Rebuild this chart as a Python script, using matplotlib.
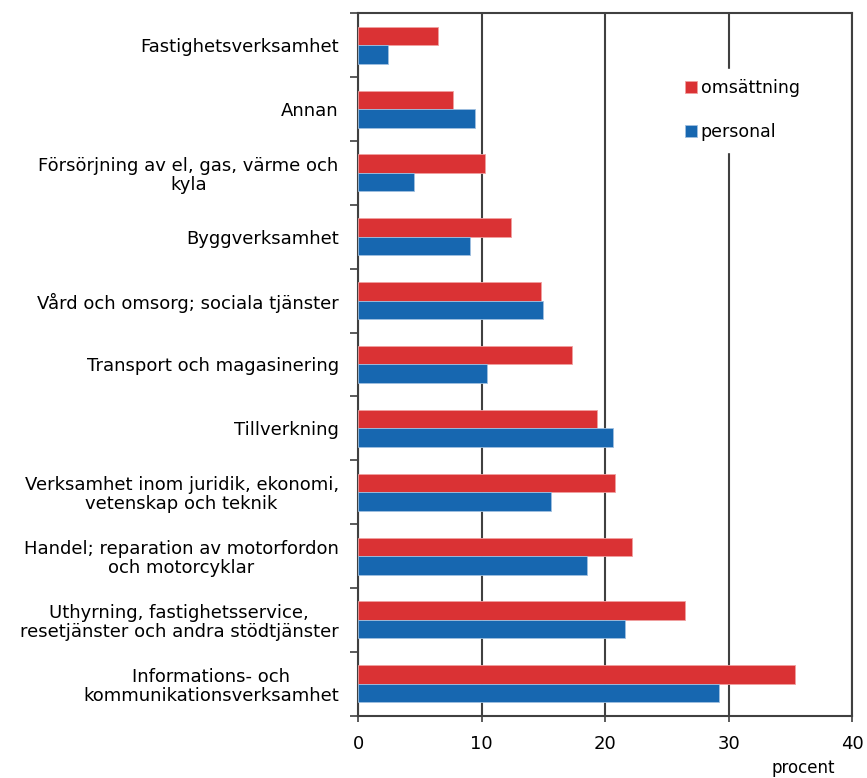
import matplotlib.pyplot as plt
import numpy as np

plt.rcParams['font.family'] = ['DejaVu Sans']

# branscher, uppifrån och ned
branscher = ['Fastighetsverksamhet',
             'Annan',
             'Försörjning av el, gas, värme och\nkyla',
             'Byggverksamhet',
             'Vård och omsorg; sociala tjänster',
             'Transport och magasinering',
             'Tillverkning',
             'Verksamhet inom juridik, ekonomi,\nvetenskap och teknik',
             'Handel; reparation av motorfordon\noch motorcyklar',
             'Uthyrning, fastighetsservice,\nresetjänster och andra stödtjänster',
             'Informations- och\nkommunikationsverksamhet']
omsattning = [6.5, 7.7, 10.3, 12.4, 14.8, 17.3, 19.3, 20.8, 22.2, 26.5, 35.4]
personal = [2.4, 9.5, 4.5, 9.1, 15.0, 10.4, 20.6, 15.6, 18.5, 21.6, 29.2]
xticks = [0, 10, 20, 30, 40]

red = '#da3234'
blue = '#1767b0'
grid = '#404040'

fig = plt.figure(figsize=(8.67, 7.78), dpi=100)
ax = fig.add_axes([0.413, 0.080, 0.570, 0.903])

y = np.arange(len(branscher))
h = 0.29
ax.barh(y - h / 2, omsattning, height=h, color=red, edgecolor='#f0a0a0', linewidth=0.6,
        label='omsättning', zorder=3)
ax.barh(y + h / 2, personal, height=h, color=blue, edgecolor='#a0c0e0', linewidth=0.6,
        label='personal', zorder=3)

ax.set_xlim(0, 40)
ax.set_ylim(len(branscher) - 0.5, -0.5)
ax.set_xticks(xticks)
ax.set_xticklabels([str(t) for t in xticks], fontsize=13)
ax.tick_params(axis='x', length=4, width=1.2, color=grid, pad=10)

# kategorinamn mitt för grupperna, streck mellan grupperna
ax.set_yticks(y)
ax.set_yticklabels(branscher, fontsize=13, ha='right', multialignment='center',
                   linespacing=1.05)
ax.tick_params(axis='y', which='major', length=0, pad=14)
ax.set_yticks(np.arange(len(branscher) + 1) - 0.5, minor=True)
ax.tick_params(axis='y', which='minor', length=6, width=1.2, color=grid)

ax.xaxis.grid(True, color=grid, linewidth=1.5, zorder=1)
for s in ax.spines.values():
    s.set_color(grid)
    s.set_linewidth(1.5)

fig.text(803 / 867, 1 - 768 / 778, 'procent', fontsize=12, ha='center', va='center')

leg = ax.legend(loc='upper left', bbox_to_anchor=(666 / 867, 1 - 60 / 778),
                bbox_transform=fig.transFigure, frameon=True, fontsize=12.5,
                handlelength=0.7, handleheight=0.7, handletextpad=0.2,
                labelspacing=1.5, borderpad=0.6)
leg.get_frame().set_edgecolor('white')
leg.get_frame().set_facecolor('white')
leg.get_frame().set_alpha(1)
leg.set_zorder(5)

fig.savefig('out.png', dpi=100)
